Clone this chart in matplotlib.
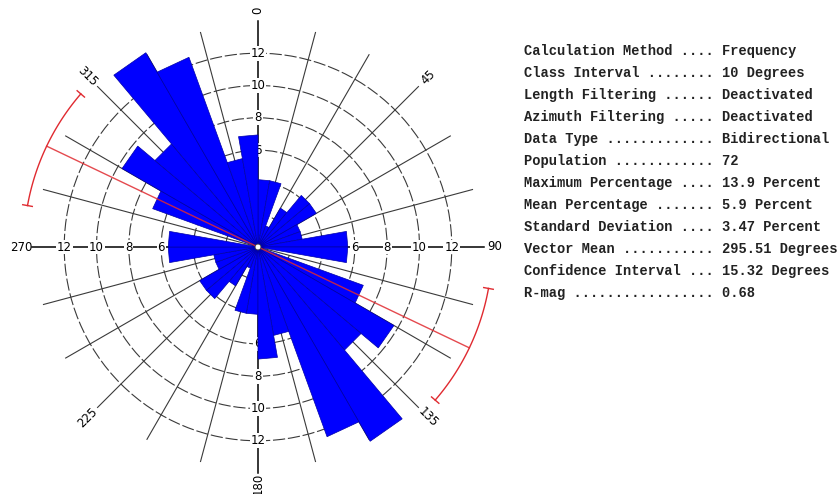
import numpy as np
import matplotlib
matplotlib.use('Agg')
import matplotlib.pyplot as plt
from matplotlib.patches import Polygon, Circle

# Rose diagram, 10 degree classes, bidirectional data (0-180 mirrored onto 180-360)
bin_start = [0, 10, 20, 30, 40, 50, 60, 70, 80, 90, 100, 110, 120, 130, 140, 150, 160, 170]
percent = [4.17, 4.17, 1.39, 2.78, 4.17, 4.17, 2.78, 2.78, 5.56, 5.56,
           0.0, 6.94, 9.72, 8.33, 13.89, 12.5, 5.56, 6.94]
ring_values = [2, 4, 6, 8, 10, 12]
axis_tick_values = [6, 8, 10, 12]
compass_labels = [0, 45, 90, 135, 180, 225, 270, 315]
vector_mean = 295.51
conf_interval = 15.32

stat_names = ['Calculation Method', 'Class Interval', 'Length Filtering',
              'Azimuth Filtering', 'Data Type', 'Population', 'Maximum Percentage',
              'Mean Percentage', 'Standard Deviation', 'Vector Mean',
              'Confidence Interval', 'R-mag']
stat_values = ['Frequency', '10 Degrees', 'Deactivated', 'Deactivated',
               'Bidirectional', '72', '13.9 Percent', '5.9 Percent', '3.47 Percent',
               '295.51 Degrees', '15.32 Degrees', '0.68']

S = 16.15  # pixels per percent unit


def xy(az, r):
    a = np.radians(az)
    return r * np.sin(a), r * np.cos(a)


fig = plt.figure(figsize=(8.39, 4.94), dpi=100)
ax = fig.add_axes([0, 0, 516 / 839, 1])
ax.set_xlim(-258 / S, 258 / S)
ax.set_ylim(-247 / S, 247 / S)
ax.axis('off')

# rings
for v in ring_values:
    ax.add_patch(Circle((0, 0), v, fill=False, ec='#3a3a3a', lw=0.8,
                        ls=(0, (11, 2.5)), zorder=1))

# radial grid every 15 degrees
for az in range(0, 360, 15):
    if az % 90 == 0:
        continue
    r_end = 14.05 if az % 45 == 0 else 13.75
    x, y = xy(az, r_end)
    ax.plot([0, x], [0, y], color='#3a3a3a', lw=0.8, zorder=1)

# main axes with percent ticks
for az in [0, 90, 180, 270]:
    x, y = xy(az, 14.0)
    ax.plot([0, x], [0, y], color='black', lw=1.1, zorder=1.2)
    for v in axis_tick_values:
        tx, ty = xy(az, v)
        ax.text(tx, ty, str(v), fontsize=8.5, ha='center', va='center', zorder=1.5,
                bbox=dict(fc='white', ec='none', pad=0.6))

# compass labels
for az in compass_labels:
    r_lab = 14.65 if az % 90 == 0 else 14.9
    tx, ty = xy(az, r_lab)
    rot = (90 - az) % 180
    if rot > 90:
        rot -= 180
    ax.text(tx, ty, str(az), fontsize=8.5, ha='center', va='center',
            rotation=rot, rotation_mode='anchor', zorder=1.5)

# petals (flat outer edge)
for a, p in zip(bin_start, percent):
    if p <= 0:
        continue
    for base in (a, a + 180):
        px, py = xy(np.array([base, base + 10]), p)
        ax.add_patch(Polygon([(0, 0), (px[0], py[0]), (px[1], py[1])],
                             closed=True, fc='#0000ff', ec='#0000a8', lw=0.5,
                             zorder=2))

# vector mean and confidence arcs
R_RED = 14.5
x1, y1 = xy(vector_mean, R_RED)
x2, y2 = xy(vector_mean - 180, R_RED)
ax.plot([x1, x2], [y1, y2], color='#e02a30', lw=1.0, alpha=0.85, zorder=3)
for c in (vector_mean, vector_mean - 180):
    th = np.linspace(c - conf_interval, c + conf_interval, 80)
    ax.plot(*xy(th, R_RED), color='#e02a30', lw=1.0, zorder=3)
    for end in (c - conf_interval, c + conf_interval):
        ex, ey = xy(end, np.array([R_RED - 0.3, R_RED + 0.3]))
        ax.plot(ex, ey, color='#e02a30', lw=1.0, zorder=3)

ax.add_patch(Circle((0, 0), 0.18, fc='white', ec='#444444', lw=0.6, zorder=4))

# statistics panel
for i, (name, val) in enumerate(zip(stat_names, stat_values)):
    line = name + ' ' + '.' * (22 - len(name)) + ' ' + val
    fig.text(524 / 839, 1 - (51 + 22 * i) / 494, line, family='Liberation Mono',
             fontsize=9.9, weight='bold', color='#222222', ha='left', va='center')

fig.savefig('out.png', dpi=100)
